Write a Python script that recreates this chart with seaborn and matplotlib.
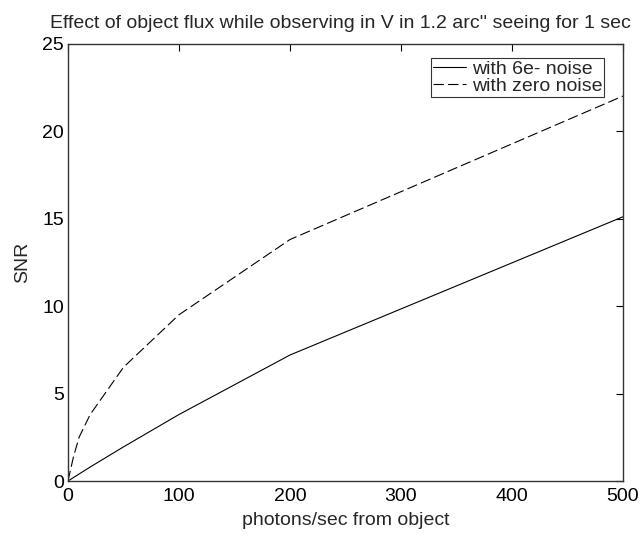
import matplotlib
matplotlib.use("Agg")
import matplotlib.pyplot as plt
import seaborn as sns
import pandas as pd

photons = [0, 5, 10, 20, 50, 100, 200, 500]
snr_6e = [0, 0.2, 0.4, 0.8, 1.95, 3.8, 7.2, 15.1]
snr_zero = [0, 1.4, 2.5, 3.8, 6.5, 9.5, 13.8, 22.0]
series_names = ["with 6e- noise", "with zero noise"]
x_ticks = [0, 100, 200, 300, 400, 500]
y_ticks = [0, 5, 10, 15, 20, 25]

df = pd.DataFrame({
    "x": photons + photons,
    "y": snr_6e + snr_zero,
    "series": [series_names[0]] * len(photons) + [series_names[1]] * len(photons),
})

sns.set_style("white")
plt.rcParams["font.family"] = ["Liberation Sans", "DejaVu Sans"]
plt.rcParams["lines.scale_dashes"] = False

fig = plt.figure(figsize=(6.42, 5.36), dpi=100)
ax = fig.add_axes([0.1059, 0.1026, 0.8645, 0.8162])

sns.lineplot(data=df, x="x", y="y", style="series", style_order=series_names,
             dashes={series_names[0]: "", series_names[1]: (7.5, 3.0)},
             color="black", linewidth=0.8, ax=ax, legend=True)

ax.set_xlim(0, 500)
ax.set_ylim(0, 25)
ax.set_xticks(x_ticks)
ax.set_yticks(y_ticks)
ax.tick_params(direction="in", length=5, width=0.8, labelsize=14, colors="black",
               top=True, right=True)
ax.tick_params(axis="x", pad=5)
ax.tick_params(axis="y", pad=3)
for s in ax.spines.values():
    s.set_visible(True)
    s.set_color("#333333")
    s.set_linewidth(1.0)

ax.set_xlabel("photons/sec from object", fontsize=14, labelpad=5)
ax.set_ylabel("SNR", fontsize=14, labelpad=8)
ax.set_title("Effect of object flux while observing in V in 1.2 arc'' seeing for 1 sec",
             fontsize=14, pad=11, x=0.49)

leg = ax.legend(loc="upper right", bbox_to_anchor=(0.966, 0.967), frameon=True,
                fancybox=False, edgecolor="black", fontsize=14, handlelength=1.7,
                handletextpad=0.3, labelspacing=0.0, borderpad=0.1,
                borderaxespad=0.0)
leg.get_frame().set_linewidth(0.8)
for line in leg.get_lines():
    line.set_color("black")
    line.set_linewidth(0.8)

fig.savefig("out.png", dpi=100)
